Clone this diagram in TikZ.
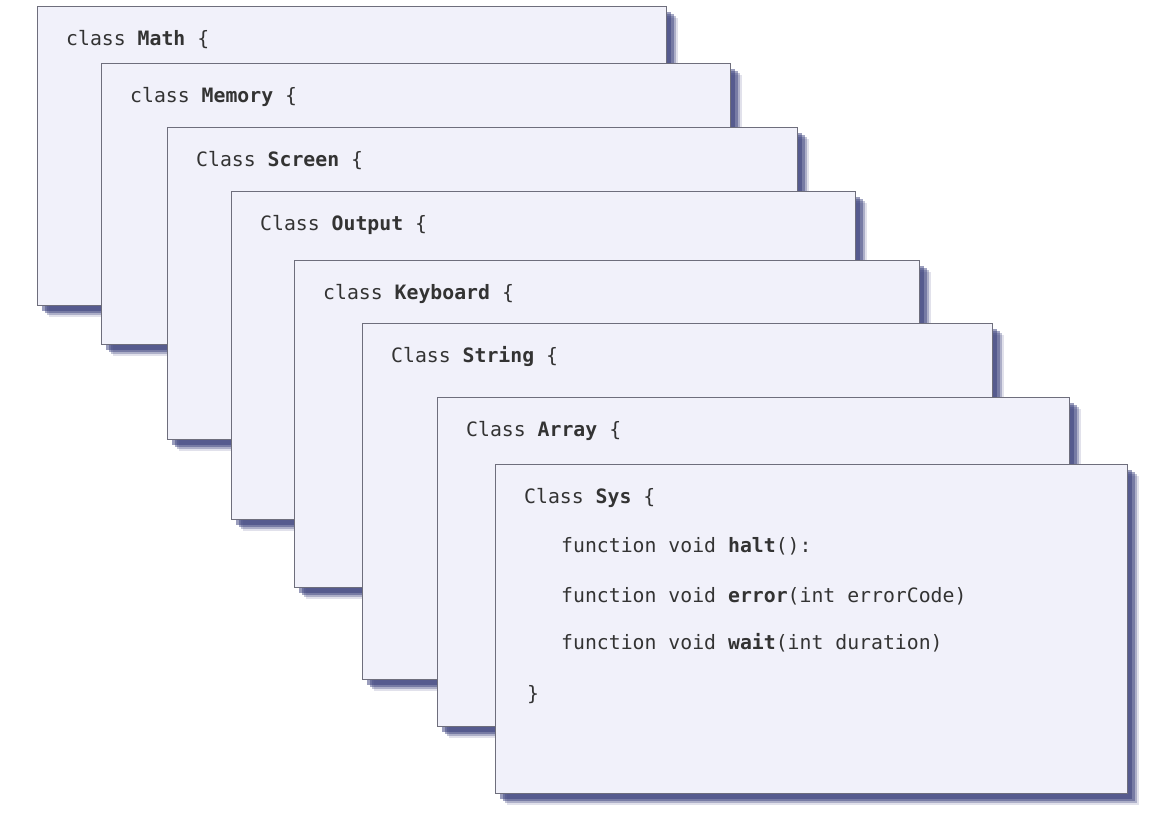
\documentclass[tikz,border=0pt]{standalone}
\usepackage{fontspec}
\setmonofont{DejaVu Sans Mono}
\usepackage{tikz}
\usetikzlibrary{shadows,positioning}
\definecolor{cardfill}{HTML}{F1F1FA}
\definecolor{cardline}{HTML}{6E6E7C}
\definecolor{shade}{HTML}{363C7A}
\definecolor{codetext}{HTML}{333333}

\begin{document}
\begin{tikzpicture}[x=1pt, y=-1pt,
    card/.style={draw=cardline, line width=0.9pt, fill=cardfill, anchor=north west,
        inner sep=0pt, outer sep=0pt,
        drop shadow={shadow xshift=12pt, shadow yshift=-12pt, opacity=.15, fill=shade},
        drop shadow={shadow xshift=10pt, shadow yshift=-10pt, opacity=.3, fill=shade},
        drop shadow={shadow xshift=8pt, shadow yshift=-8pt, opacity=.45, fill=shade},
        drop shadow={shadow xshift=5pt, shadow yshift=-6pt, opacity=.5, fill=shade}},
    code/.style={anchor=base west, inner sep=0pt, text=codetext,
        font=\ttfamily\fontsize{19.8}{23}\selectfont}]
  \useasboundingbox[fill=white] (0,0) rectangle (1168,812);
  % cards, back to front
  \foreach \nm/\l/\t/\r/\b/\kw/\cls in {math/37/6/666/305/class/Math,
      memory/101/63/730/344/class/Memory, screen/167/127/797/439/Class/Screen,
      output/231/191/855/519/Class/Output, keyboard/294/260/919/587/class/Keyboard,
      string/362/323/992/679/Class/String, array/437/397/1069/726/Class/Array,
      sys/495/464/1127/793/Class/Sys}{
    \node[card, minimum width={\r pt-\l pt}, minimum height={\b pt-\t pt}] (\nm) at (\l,\t) {};
    \node[code] (\nm-title) at (\l+29,\t+39) {\kw\ \textbf{\cls} \{};
  }
  \node[code] (halt) at (561,552) {function void \textbf{halt}():};
  \node[code] (error) at (561,602) {function void \textbf{error}(int errorCode)};
  \node[code] (wait) at (561,649) {function void \textbf{wait}(int duration)};
  \node[code] (close) at (527,700) {\}};
\end{tikzpicture}
\end{document}
